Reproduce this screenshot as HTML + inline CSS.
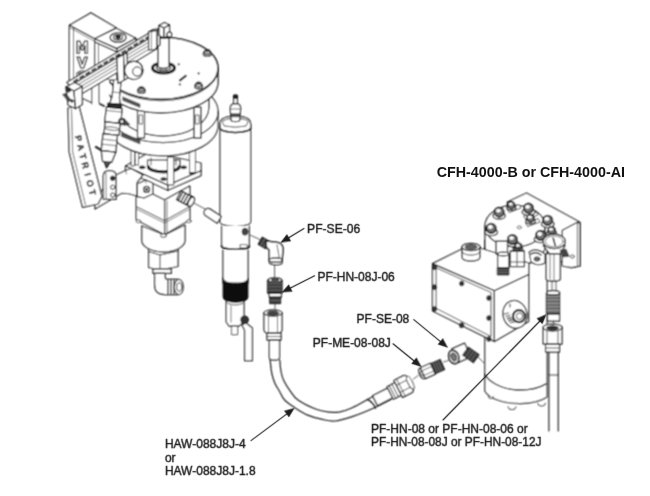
<!DOCTYPE html>
<html><head><meta charset="utf-8"><style>
html,body{margin:0;padding:0;background:#fff;}
svg{display:block;font-family:"Liberation Sans",sans-serif;will-change:transform;}
</style></head><body>
<svg width="650" height="496" viewBox="0 0 650 496" stroke-linejoin="round" stroke-linecap="round">
<defs><filter id="soft" x="0" y="0" width="650" height="496" filterUnits="userSpaceOnUse"><feConvolveMatrix order="3" kernelMatrix="1 2 1 2 4 2 1 2 1" divisor="16" edgeMode="duplicate"/></filter><filter id="soft2" x="0" y="0" width="650" height="496" filterUnits="userSpaceOnUse"><feConvolveMatrix order="3" kernelMatrix="0 1 0 1 12 1 0 1 0" divisor="16" edgeMode="duplicate"/></filter></defs>
<rect width="650" height="496" fill="#fff"/>
<g filter="url(#soft)">
<polygon points="136.3,186 164.6,200 164.6,234.8 136.3,219.7" fill="#fff" stroke="#1e1e1e" stroke-width="1.25"/>
<polygon points="164.6,200 189.8,186 189.8,219.7 164.6,234.8" fill="#fff" stroke="#1e1e1e" stroke-width="1.25"/>
<polyline points="136.3,206.6 164.6,220.7 189.8,206.6" fill="none" stroke="#1e1e1e" stroke-width="0.9"/>
<polyline points="136.3,209 164.6,223.1 189.8,209" fill="none" stroke="#1e1e1e" stroke-width="0.6"/>
<line x1="167" y1="201" x2="167" y2="234" stroke="#1e1e1e" stroke-width="0.6" />
<ellipse cx="138.4" cy="221.2" rx="2.3" ry="1.4" fill="#fff" stroke="#1e1e1e" stroke-width="0.8"/>
<ellipse cx="163" cy="235.6" rx="2.3" ry="1.4" fill="#fff" stroke="#1e1e1e" stroke-width="0.8"/>
<ellipse cx="188.8" cy="221.2" rx="2.3" ry="1.4" fill="#fff" stroke="#1e1e1e" stroke-width="0.8"/>
<polygon points="125.5,166 150,152 201,163 201,170.8 167.8,185.3" fill="#fff" stroke="#1e1e1e" stroke-width="1.25"/>
<polygon points="125.5,166 167.8,185.3 167.8,190.2 125.5,170.8" fill="#fff" stroke="#1e1e1e" stroke-width="1.25"/>
<polygon points="167.8,185.3 201,170.8 201,175.6 167.8,190.2" fill="#fff" stroke="#1e1e1e" stroke-width="1.25"/>
<path d="M147.5,160 L147.5,167 A16.3,6 0 0 0 180.1,167 L180.1,160 Z" fill="#fff" stroke="#1e1e1e" stroke-width="1.2" />
<path d="M148.5,166.5 A15.3,5.5 0 0 0 179,166.5" fill="none" stroke="#222" stroke-width="2.4" />
<path d="M151,158 L151,165 M176,158 L176,165" fill="none" stroke="#1e1e1e" stroke-width="0.7" />
<rect x="167.8" y="157" width="6" height="28" fill="#fff" stroke="#1e1e1e" stroke-width="0.9"/>
<ellipse cx="142.2" cy="167.3" rx="3" ry="1.6" fill="#333" stroke="#1e1e1e" stroke-width="0.4"/>
<ellipse cx="183.7" cy="167.3" rx="3" ry="1.6" fill="#333" stroke="#1e1e1e" stroke-width="0.4"/>
<ellipse cx="163.6" cy="179" rx="3" ry="1.6" fill="#333" stroke="#1e1e1e" stroke-width="0.4"/>
<ellipse cx="192" cy="173" rx="3" ry="1.6" fill="#333" stroke="#1e1e1e" stroke-width="0.4"/>
<rect x="131.5" y="150" width="3" height="16" fill="#fff" stroke="#1e1e1e" stroke-width="0.8"/>
<rect x="135.5" y="150" width="3" height="15" fill="#fff" stroke="#1e1e1e" stroke-width="0.8"/>
<rect x="190" y="150" width="5.4" height="22.5" fill="#fff" stroke="#1e1e1e" stroke-width="0.8"/>
<polygon points="112,177 125.5,170.5 131,168.5 143,175 137.2,182.2 137.2,196 128,193.5 121.6,193.3 95,209 95,200" fill="#fff" stroke="#1e1e1e" stroke-width="1.25"/>
<line x1="125.5" y1="170.5" x2="126.5" y2="174" stroke="#1e1e1e" stroke-width="0.6" />
<polygon points="137.2,184 146,180 152.7,183 152.7,194 144,198 137.2,196.6" fill="#fff" stroke="#1e1e1e" stroke-width="1.25"/>
<line x1="146" y1="180" x2="146" y2="183" stroke="#1e1e1e" stroke-width="0.6" />
<circle cx="146.6" cy="189.4" r="3" fill="#fff" stroke="#1e1e1e" stroke-width="1.25"/>
<circle cx="146.6" cy="189.4" r="1.3" fill="#333" stroke="#1e1e1e" stroke-width="0.3"/>
<g transform="rotate(28 185 198.5)">
<rect x="178" y="193.5" width="14" height="10" fill="#fff" stroke="#1e1e1e" stroke-width="1.25"/>
<line x1="180" y1="193.5" x2="180" y2="203.5" stroke="#222" stroke-width="1.4" />
<line x1="183" y1="193.5" x2="183" y2="203.5" stroke="#222" stroke-width="1.4" />
<line x1="186" y1="193.5" x2="186" y2="203.5" stroke="#222" stroke-width="1.4" />
<line x1="189" y1="193.5" x2="189" y2="203.5" stroke="#222" stroke-width="1.4" />
<ellipse cx="192" cy="198.5" rx="2.5" ry="5" fill="#fff" stroke="#1e1e1e" stroke-width="1.25"/>
</g>
<polygon points="148.6,246 178,246 178,266.5 160,270 148.6,267.5" fill="#fff" stroke="#1e1e1e" stroke-width="1.25"/>
<polyline points="148.6,251.5 160,255 178,251" fill="none" stroke="#1e1e1e" stroke-width="1.0"/>
<line x1="160" y1="255" x2="160" y2="270" stroke="#1e1e1e" stroke-width="0.8" />
<path d="M141.8,226 L141.8,240.3 A21.6,11.7 0 0 0 185,240.3 L185,225 L164.6,235 Z" fill="#fff" stroke="#1e1e1e" stroke-width="1.25" />
<ellipse cx="163.5" cy="235.6" rx="3" ry="1.8" fill="#fff" stroke="#1e1e1e" stroke-width="0.9"/>
<rect x="153" y="268.8" width="18.3" height="4.6" fill="#fff" stroke="#1e1e1e" stroke-width="1.25"/>
<path d="M154.6,273.4 L154.6,285 Q154.6,294.5 165,294.5 L178.8,294.5 L178.8,279.4 L167,279.4 Q165.2,279.4 165.2,277 L165.2,273.4 Z" fill="#fff" stroke="#1e1e1e" stroke-width="1.25" />
<line x1="168" y1="279.4" x2="168" y2="294.5" stroke="#1e1e1e" stroke-width="1.2" />
<line x1="171" y1="279.4" x2="171" y2="294.5" stroke="#1e1e1e" stroke-width="1.2" />
<line x1="174" y1="279.4" x2="174" y2="294.5" stroke="#1e1e1e" stroke-width="1.2" />
<ellipse cx="178.8" cy="287" rx="4.5" ry="7.5" fill="#fff" stroke="#1e1e1e" stroke-width="1.2"/>
<ellipse cx="179.2" cy="287" rx="2.5" ry="4.3" fill="#fff" stroke="#1e1e1e" stroke-width="0.9"/>
<path d="M108,111.6 L108,125 A55,31 0 0 0 218,125 L218,111.6 A55,31 0 0 0 108,111.6 Z" fill="#fff" stroke="#1e1e1e" stroke-width="1.25" />
<path d="M108,111.6 A55,31 0 0 0 218,111.6" fill="none" stroke="#1e1e1e" stroke-width="1.1" />
<path d="M117,85 L117,107 A46,29 0 0 0 209,107 L209,85 Z" fill="#fff" stroke="#1e1e1e" stroke-width="1.25" />
<rect x="137.5" y="107" width="7" height="31" fill="#fff" stroke="#1e1e1e" stroke-width="1.25"/>
<rect x="139.5" y="115" width="3" height="9" fill="#fff" stroke="#1e1e1e" stroke-width="0.7"/>
<rect x="194" y="107" width="7" height="31" fill="#fff" stroke="#1e1e1e" stroke-width="1.25"/>
<rect x="196" y="115" width="3" height="9" fill="#fff" stroke="#1e1e1e" stroke-width="0.7"/>
<path d="M104,68.2 L104,82 A57,31 0 0 0 218,82 L218,68.2 Z" fill="#fff" stroke="#1e1e1e" stroke-width="1.4" />
<path d="M104,69.8 A57,31 0 0 0 218,69.8" fill="none" stroke="#1e1e1e" stroke-width="0.8" />
<ellipse cx="161" cy="68.2" rx="57" ry="31" fill="#fff" stroke="#1e1e1e" stroke-width="1.6"/>
<polygon points="123,97 140,104 140,107.5 123,100.5" fill="#555" stroke="#1e1e1e" stroke-width="0.5"/>
<polygon points="121.5,133 140,140.5 140,144 121.5,136.5" fill="#555" stroke="#1e1e1e" stroke-width="0.5"/>
<ellipse cx="207.2" cy="53.7" rx="4" ry="2.6" fill="#fff" stroke="#1e1e1e" stroke-width="1.25"/>
<ellipse cx="207.2" cy="52" rx="2.8" ry="2.3" fill="#fff" stroke="#1e1e1e" stroke-width="1.25"/>
<ellipse cx="207.2" cy="51.3" rx="1.6" ry="1" fill="#333" stroke="#1e1e1e" stroke-width="0.3"/>
<ellipse cx="198.6" cy="86.2" rx="4" ry="2.6" fill="#fff" stroke="#1e1e1e" stroke-width="1.25"/>
<ellipse cx="198.6" cy="84.5" rx="2.8" ry="2.3" fill="#fff" stroke="#1e1e1e" stroke-width="1.25"/>
<ellipse cx="198.6" cy="83.8" rx="1.6" ry="1" fill="#333" stroke="#1e1e1e" stroke-width="0.3"/>
<ellipse cx="141.4" cy="90.8" rx="4" ry="2.6" fill="#fff" stroke="#1e1e1e" stroke-width="1.25"/>
<ellipse cx="141.4" cy="89.1" rx="2.8" ry="2.3" fill="#fff" stroke="#1e1e1e" stroke-width="1.25"/>
<ellipse cx="141.4" cy="88.4" rx="1.6" ry="1" fill="#333" stroke="#1e1e1e" stroke-width="0.3"/>
<line x1="180" y1="80.4" x2="185.7" y2="75.8" stroke="#222" stroke-width="2.2" />
<circle cx="178.7" cy="64.3" r="0.9" fill="#333" stroke="#1e1e1e" stroke-width="0.3"/>
<circle cx="198.6" cy="73.4" r="0.9" fill="#333" stroke="#1e1e1e" stroke-width="0.3"/>
<circle cx="179.8" cy="84.4" r="0.9" fill="#333" stroke="#1e1e1e" stroke-width="0.3"/>
<ellipse cx="163.5" cy="68" rx="11" ry="5" fill="#fff" stroke="#1e1e1e" stroke-width="3.0"/>
<ellipse cx="163.5" cy="67.6" rx="7" ry="2.8" fill="#fff" stroke="#1e1e1e" stroke-width="1.25"/>
<polygon points="69.4,25.2 90.9,12.9 116.2,27.7 94.6,38.8" fill="#fff" stroke="#1e1e1e" stroke-width="1.25"/>
<polygon points="69.4,25.2 94.6,38.8 94.6,104 69.4,92" fill="#fff" stroke="#1e1e1e" stroke-width="1.25"/>
<line x1="73.5" y1="28" x2="73.5" y2="92" stroke="#1e1e1e" stroke-width="0.8" />
<line x1="69.4" y1="27.5" x2="94.6" y2="41.3" stroke="#1e1e1e" stroke-width="0.6" />
<polygon points="77,53.5 77,41 79.8,41 82.2,47 84.7,41 87.5,41 87.5,53.5 85,53.5 85,45.5 83,50 81.5,50 79.5,45.5 79.5,53.5" fill="#fff" stroke="#1a1a1a" stroke-width="1.2"/>
<polygon points="77,57 79.8,57 82.2,64.2 84.7,57 87.5,57 83.8,68 80.8,68" fill="#fff" stroke="#1a1a1a" stroke-width="1.2"/>
<path d="M86.5,73.5 Q82,69.5 77.5,73.5 L77.5,77" fill="none" stroke="#1a1a1a" stroke-width="2.6" />
<path d="M86.5,73.5 Q82,69.5 77.5,73.5 L77.5,77" fill="none" stroke="#fff" stroke-width="0.9" />
<polygon points="94.6,38.8 116.2,28.3 135.8,38.2 116.8,48.6" fill="#fff" stroke="#1e1e1e" stroke-width="1.25"/>
<polygon points="94.6,38.8 116.8,48.6 116.8,52 94.6,42" fill="#fff" stroke="#1e1e1e" stroke-width="1.25"/>
<polygon points="116.8,48.6 135.8,38.2 135.8,41.6 116.8,52" fill="#fff" stroke="#1e1e1e" stroke-width="1.25"/>
<polygon points="94.6,42 116.8,52 116.8,80 94.6,80" fill="#fff" stroke="#1e1e1e" stroke-width="1.25"/>
<line x1="98.5" y1="44" x2="98.5" y2="82" stroke="#1e1e1e" stroke-width="0.8" />
<ellipse cx="118.1" cy="37.5" rx="8" ry="4.8" fill="#fff" stroke="#1e1e1e" stroke-width="1.3"/>
<ellipse cx="118.1" cy="37.2" rx="4.6" ry="2.7" fill="#fff" stroke="#1e1e1e" stroke-width="1.1"/>
<ellipse cx="118.1" cy="37" rx="2.2" ry="1.3" fill="#222" stroke="#1e1e1e" stroke-width="1.25"/>
<polygon points="91.8,80 109,80 109,112 91.8,112" fill="#fff" stroke="none" stroke-width="0"/>
<line x1="91.8" y1="80" x2="91.8" y2="104" stroke="#1e1e1e" stroke-width="0.9" />
<line x1="99" y1="80" x2="99" y2="103" stroke="#1e1e1e" stroke-width="0.9" />
<polygon points="68,108 79,106 101.9,196.4 98.2,204 82.5,207.3 69.2,152" fill="#fff" stroke="#1e1e1e" stroke-width="1.25"/>
<polyline points="71.5,109 72.7,152 85.5,205" fill="none" stroke="#1e1e1e" stroke-width="0.7"/>
<g transform="translate(78.6,138.4) rotate(75.5)">
<text x="0" y="3.3" font-size="9" font-weight="bold" fill="#2a2a2a" stroke="#2a2a2a" stroke-width="0.35" text-anchor="middle">P</text>
<text x="9.3" y="3.3" font-size="9" font-weight="bold" fill="#2a2a2a" stroke="#2a2a2a" stroke-width="0.35" text-anchor="middle">A</text>
<text x="18.6" y="3.3" font-size="9" font-weight="bold" fill="#2a2a2a" stroke="#2a2a2a" stroke-width="0.35" text-anchor="middle">T</text>
<text x="27.9" y="3.3" font-size="9" font-weight="bold" fill="#2a2a2a" stroke="#2a2a2a" stroke-width="0.35" text-anchor="middle">R</text>
<text x="37.2" y="3.3" font-size="9" font-weight="bold" fill="#2a2a2a" stroke="#2a2a2a" stroke-width="0.35" text-anchor="middle">I</text>
<text x="46.5" y="3.3" font-size="9" font-weight="bold" fill="#2a2a2a" stroke="#2a2a2a" stroke-width="0.35" text-anchor="middle">O</text>
<text x="55.8" y="3.3" font-size="9" font-weight="bold" fill="#2a2a2a" stroke="#2a2a2a" stroke-width="0.35" text-anchor="middle">T</text>
</g>
<g transform="translate(-2.5,0) rotate(6 113 130)">
<path d="M111,80 L111,97 L109.5,103.5 L120,103.5 L118.5,97 L118.5,80" fill="#fff" stroke="#1e1e1e" stroke-width="1.25" />
<line x1="111" y1="92" x2="118.5" y2="92" stroke="#1e1e1e" stroke-width="0.6" />
<rect x="107.5" y="103.5" width="14" height="4" fill="#2a2a2a" stroke="#1e1e1e" stroke-width="1.25"/>
<rect x="106.5" y="107.5" width="16" height="15" fill="#fff" stroke="#1e1e1e" stroke-width="1.25"/>
<line x1="106.5" y1="111" x2="122.5" y2="111" stroke="#1e1e1e" stroke-width="0.6" />
<rect x="107" y="122.5" width="15" height="12" fill="#fff" stroke="#1e1e1e" stroke-width="1.25"/>
<ellipse cx="114.5" cy="128.5" rx="7.5" ry="1.6" fill="#fff" stroke="#1e1e1e" stroke-width="0.7"/>
<rect x="106" y="134.5" width="14.5" height="17" fill="#fff" stroke="#1e1e1e" stroke-width="1.25"/>
<line x1="106" y1="140" x2="120.5" y2="140" stroke="#1e1e1e" stroke-width="0.6" />
<line x1="106" y1="145" x2="120.5" y2="145" stroke="#1e1e1e" stroke-width="0.6" />
<path d="M106,151.5 L108.5,162 L117.5,162 L120.5,151.5 Z" fill="#fff" stroke="#1e1e1e" stroke-width="1.25" />
<path d="M110,162 L113,168 L116,162" fill="#555" stroke="#1e1e1e" stroke-width="1.25" />
</g>
<circle cx="122" cy="121.5" r="3.6" fill="#444" stroke="#1e1e1e" stroke-width="0.6"/>
<circle cx="122" cy="121.5" r="1.6" fill="#fff" stroke="#1e1e1e" stroke-width="0.3"/>
<polygon points="124,118.5 130,124.5 124,125.5" fill="#444" stroke="#1e1e1e" stroke-width="0.4"/>
<line x1="100" y1="104" x2="104" y2="106" stroke="#333" stroke-width="2.4" />
<line x1="96" y1="147" x2="101" y2="150" stroke="#333" stroke-width="2.4" />
<path d="M103.3,199.4 L103.3,176 Q103.3,170.5 109.7,170.5 Q116.1,170.5 116.1,176 L116.1,199.4 Z" fill="#fff" stroke="#1e1e1e" stroke-width="1.25" />
<line x1="106" y1="173" x2="106" y2="199.4" stroke="#1e1e1e" stroke-width="0.6" />
<circle cx="112.7" cy="178.3" r="2.3" fill="#333" stroke="#1e1e1e" stroke-width="0.8"/>
<circle cx="112.7" cy="187.2" r="2.1" fill="#fff" stroke="#1e1e1e" stroke-width="1.0"/>
<circle cx="112.7" cy="195" r="2.1" fill="#fff" stroke="#1e1e1e" stroke-width="1.0"/>
<polygon points="67,82.3 153,30.7 155,35 70,86" fill="#fff" stroke="#1e1e1e" stroke-width="1.25"/>
<polygon points="70,86 155,35 157,48.8 72,99.8" fill="#fff" stroke="#1e1e1e" stroke-width="1.25"/>
<line x1="71" y1="88.9" x2="156" y2="37.9" stroke="#1e1e1e" stroke-width="0.7" />
<line x1="71" y1="92.4" x2="156" y2="41.4" stroke="#1e1e1e" stroke-width="0.7" />
<line x1="71" y1="95.9" x2="156" y2="44.9" stroke="#1e1e1e" stroke-width="0.7" />
<line x1="74" y1="81.4" x2="150" y2="35.8" stroke="#222" stroke-width="1.8" stroke-dasharray="4 3"/>
<polygon points="116.8,58 123.5,54.5 124.5,80 118,83.5" fill="#fff" stroke="#1e1e1e" stroke-width="1.25"/>
<polygon points="123.5,54.5 127,52.5 128,78 124.5,80" fill="#fff" stroke="#1e1e1e" stroke-width="1.25"/>
<polygon points="116.8,58 120,55.5 127,52.5 123.5,54.5" fill="#fff" stroke="#1e1e1e" stroke-width="1.25"/>
<circle cx="133.8" cy="70.3" r="9.3" fill="#fff" stroke="#1e1e1e" stroke-width="1.25"/>
<circle cx="137.2" cy="71.5" r="4.6" fill="#fff" stroke="#1e1e1e" stroke-width="1.0"/>
<path d="M126.5,64.5 Q132,59.5 139,62.5" fill="none" stroke="#1e1e1e" stroke-width="0.8" />
<path d="M125.5,73.5 Q128,79.5 134,79.6" fill="none" stroke="#1e1e1e" stroke-width="0.8" />
<path d="M140.5,64 Q143,68 142.5,73" fill="none" stroke="#1e1e1e" stroke-width="0.8" />
<path d="M158,38 L158,66 A5.55,2.3 0 0 0 169.1,66 L169.1,38 Z" fill="#fff" stroke="#1e1e1e" stroke-width="1.25" />
<polygon points="148.6,32 153,29.5 160,28.5 157.2,30.5" fill="#fff" stroke="#1e1e1e" stroke-width="1.25"/>
<polygon points="148.6,32 157.2,30.5 157.2,47 155,49.5 148.6,50" fill="#fff" stroke="#1e1e1e" stroke-width="1.25"/>
<polygon points="157.2,30.5 160,28.5 160,45 157.2,47" fill="#fff" stroke="#1e1e1e" stroke-width="1.25"/>
<line x1="151.5" y1="31.5" x2="151.5" y2="49.5" stroke="#1e1e1e" stroke-width="0.6" />
<polygon points="159,25.5 164.5,22.5 169.5,25 164,28" fill="#fff" stroke="#1e1e1e" stroke-width="1.25"/>
<polygon points="159,25.5 164,28 164,38 159,35.5" fill="#fff" stroke="#1e1e1e" stroke-width="1.25"/>
<polygon points="164,28 169.5,25 169.5,35 164,38" fill="#fff" stroke="#1e1e1e" stroke-width="1.25"/>
<circle cx="169.3" cy="34.6" r="2.4" fill="#fff" stroke="#1e1e1e" stroke-width="1.2"/>
<polygon points="66,87 74.5,82.5 82.3,86.5 74,91" fill="#fff" stroke="#1e1e1e" stroke-width="1.25"/>
<polygon points="66,87 74,91 75.5,108.8 68,105" fill="#fff" stroke="#1e1e1e" stroke-width="1.25"/>
<polygon points="74,91 82.3,86.5 82.3,104.5 75.5,108.8" fill="#fff" stroke="#1e1e1e" stroke-width="1.25"/>
<circle cx="68.4" cy="89.8" r="2.4" fill="#333" stroke="#1e1e1e" stroke-width="0.8"/>
<circle cx="72" cy="101" r="1.4" fill="#333" stroke="#1e1e1e" stroke-width="0.5"/>
<polygon points="63,94.5 66,93.5 71,100 69,101.5" fill="#444" stroke="#1e1e1e" stroke-width="0.6"/>
<path d="M220.1,124 L220.1,222 A15.25,4.5 0 0 0 250.6,222 L250.6,124 Z" fill="#fff" stroke="#1e1e1e" stroke-width="1.25" />
<path d="M220.1,124 Q220.1,116 235.3,116 Q250.6,116 250.6,124 L250.6,128 A15.25,4.5 0 0 1 220.1,128 Z" fill="#fff" stroke="#1e1e1e" stroke-width="1.25" />
<path d="M222.6,122 Q223.1,118.5 235.3,118.5 Q247.5,118.5 248,122 L246,126 Q235.3,128.5 224.6,126 Z" fill="#fff" stroke="#1e1e1e" stroke-width="0.8" />
<path d="M220.1,128 A15.25,4.5 0 0 0 250.6,128" fill="none" stroke="#1e1e1e" stroke-width="1.7" />
<path d="M231,114.5 L231,120 A4.4,1.6 0 0 0 239.8,120 L239.8,114.5 Z" fill="#fff" stroke="#1e1e1e" stroke-width="1.2" />
<rect x="231" y="114.2" width="8.8" height="2.6" fill="#555" stroke="#1e1e1e" stroke-width="0.6"/>
<path d="M233.5,103.7 Q230,105 230.3,109 L230.6,114.2 L240.2,114.2 L240.6,109 Q241,105 237.4,103.7 Z" fill="#fff" stroke="#1e1e1e" stroke-width="1.25" />
<line x1="230.5" y1="109" x2="240.5" y2="109" stroke="#1e1e1e" stroke-width="0.6" />
<rect x="233.6" y="98" width="3.8" height="5.7" fill="#fff" stroke="#1e1e1e" stroke-width="1.25"/>
<ellipse cx="235.5" cy="96.4" rx="2.1" ry="1.6" fill="#222" stroke="#1e1e1e" stroke-width="1.25"/>
<path d="M221.6,226 L221.6,246 A13.8,3.5 0 0 0 249.3,246 L249.3,226" fill="#fff" stroke="#1e1e1e" stroke-width="1.25" />
<path d="M221.6,246 A13.8,3.5 0 0 0 249.3,246" fill="none" stroke="#1a1a1a" stroke-width="2.0" />
<ellipse cx="245" cy="231.7" rx="3" ry="3.6" fill="#444" stroke="#1e1e1e" stroke-width="0.6"/>
<rect x="240.5" y="244.5" width="6.5" height="3.5" fill="#fff" stroke="#1e1e1e" stroke-width="0.7"/>
<path d="M223,250 L223,283 L248,283 L248,250" fill="#fff" stroke="#1e1e1e" stroke-width="1.25" />
<path d="M226.3,298 L226.3,322 L229,326 L239,326 L244,322 L244,298" fill="#fff" stroke="#1e1e1e" stroke-width="1.25" />
<line x1="231" y1="306" x2="231" y2="322" stroke="#1e1e1e" stroke-width="0.6" />
<path d="M227.5,303 A8,2.5 0 0 0 243,303" fill="none" stroke="#1e1e1e" stroke-width="0.8" />
<path d="M223,278 A12.5,5.7 0 0 0 248,278 L248,297.4 A12.5,5 0 0 1 223,297.4 Z" fill="#0e0e0e" stroke="#1e1e1e" stroke-width="0.8" />
<rect x="232" y="326" width="5.6" height="8.6" fill="#fff" stroke="#1e1e1e" stroke-width="0.9"/>
<circle cx="244.6" cy="319.8" r="4" fill="#333" stroke="#1e1e1e" stroke-width="0.6"/>
<polygon points="242,325 246,323 252.4,328 252.4,360.7 244.6,360.7 244.6,330" fill="#fff" stroke="#1e1e1e" stroke-width="1.25"/>
<g transform="rotate(33 213.5 216)">
<path d="M207,212 L220.5,212 L220.5,220 L207,220 A4,4 0 0 1 207,212 Z" fill="#fff" stroke="#1e1e1e" stroke-width="1.25" />
</g>
<line x1="193.8" y1="203" x2="206" y2="209.5" stroke="#1e1e1e" stroke-width="0.7" />
<line x1="250" y1="235" x2="261" y2="240" stroke="#1e1e1e" stroke-width="0.7" />
<g transform="rotate(30 264.5 243.2)">
<rect x="259.5" y="239" width="9" height="8.4" fill="#3a3a3a" stroke="#1a1a1a" stroke-width="0.9"/>
<line x1="262.5" y1="239.8" x2="262.5" y2="246.6" stroke="#888" stroke-width="0.6" />
<line x1="265.5" y1="239.8" x2="265.5" y2="246.6" stroke="#888" stroke-width="0.6" />
</g>
<path d="M266.3,241 L278,242.5 Q283,243.5 283,249.6 L282.2,260 L269.3,260 L269.3,250 Q267,248 266.3,246.6 Z" fill="#fff" stroke="#1a1a1a" stroke-width="1.5" />
<line x1="277" y1="245" x2="279.5" y2="259" stroke="#1e1e1e" stroke-width="0.7" />
<path d="M269.3,260 L269.3,262.5 A6.45,2.2 0 0 0 282.2,262.5 L282.2,260" fill="#fff" stroke="#1e1e1e" stroke-width="1.3" />
<ellipse cx="275.7" cy="260" rx="6.5" ry="2.2" fill="#fff" stroke="#1e1e1e" stroke-width="1.3"/>
<line x1="274.6" y1="264.7" x2="274.6" y2="278" stroke="#1e1e1e" stroke-width="0.7" />
<rect x="267.8" y="280" width="14.4" height="13.4" fill="#3a3a3a" stroke="#1a1a1a" stroke-width="0.9"/>
<line x1="268.6" y1="283.4" x2="281.4" y2="283.4" stroke="#888" stroke-width="0.6" />
<line x1="268.6" y1="286.7" x2="281.4" y2="286.7" stroke="#888" stroke-width="0.6" />
<line x1="268.6" y1="290.1" x2="281.4" y2="290.1" stroke="#888" stroke-width="0.6" />
<ellipse cx="275" cy="280" rx="6.6" ry="2.2" fill="#fff" stroke="#1e1e1e" stroke-width="1.25"/>
<ellipse cx="275" cy="280" rx="3.8" ry="1.2" fill="#555" stroke="#1e1e1e" stroke-width="0.6"/>
<rect x="269.3" y="293.4" width="12.1" height="3.8" fill="#fff" stroke="#1e1e1e" stroke-width="1.25"/>
<rect x="270" y="297.2" width="10.7" height="6.5" fill="#3a3a3a" stroke="#1a1a1a" stroke-width="0.9"/>
<line x1="270.8" y1="300.4" x2="279.9" y2="300.4" stroke="#888" stroke-width="0.6" />
<line x1="275" y1="303.7" x2="275" y2="310" stroke="#1e1e1e" stroke-width="0.7" />
<path d="M270.1,360 C270.4,362.3 271.1,370 271.9,373.9 C272.7,377.8 273.8,380.7 275,383.5 C276.2,386.3 277.6,388.1 279.2,390.8 C280.8,393.6 282,397.2 284.6,400 C287.2,402.8 291,405.2 294.8,407.7 C298.6,410.2 303.2,413.2 307.7,415.1 C312.1,417 316.9,418.2 321.5,419.2 C326.1,420.2 329.9,421.4 335,421 C340.1,420.6 345.6,418.8 352.2,416.6 C358.8,414.4 367.9,410.6 374.4,407.7 C380.9,404.8 388.2,400.8 391,399.4" fill="none" stroke="#1e1e1e" stroke-width="1.2" />
<path d="M279.8,360 C280,361.9 280.3,368 281,371.5 C281.7,375 282.5,377.9 284,381.1 C285.5,384.3 287.8,387.7 290.1,390.8 C292.4,393.9 293.5,396.9 298,400 C302.5,403.1 311.6,407.5 316.9,409.5 C322.2,411.5 326.1,411.8 330,412.2 C333.9,412.6 336.3,412.6 340,411.9 C343.7,411.1 347.8,409.7 352.2,407.7 C356.6,405.7 361.1,403.1 366.6,400 C372.2,396.9 382.4,391.2 385.5,389.4" fill="none" stroke="#1e1e1e" stroke-width="1.2" />
<path d="M367.2,399.4 Q373,402 375.5,408.3" fill="none" stroke="#1e1e1e" stroke-width="1.3" />
<path d="M264,313 L264,329 Q264,333 268,333 L278,333 Q282,333 282,329 L282,313 Z" fill="#fff" stroke="#1e1e1e" stroke-width="1.25" />
<line x1="268.5" y1="314" x2="268.5" y2="332" stroke="#1e1e1e" stroke-width="0.7" />
<line x1="277.5" y1="314" x2="277.5" y2="332" stroke="#1e1e1e" stroke-width="0.7" />
<ellipse cx="273" cy="313" rx="9" ry="3.2" fill="#fff" stroke="#1e1e1e" stroke-width="1.25"/>
<ellipse cx="273" cy="313.3" rx="6" ry="2.2" fill="#444" stroke="#1e1e1e" stroke-width="0.6"/>
<rect x="267" y="333" width="14" height="7" fill="#fff" stroke="#1e1e1e" stroke-width="1.25"/>
<line x1="267" y1="336.5" x2="281" y2="336.5" stroke="#1e1e1e" stroke-width="0.8" />
<path d="M269.4,340 L269.4,358 A5.05,2 0 0 0 279.5,358 L279.5,340 Z" fill="#fff" stroke="#1e1e1e" stroke-width="1.25" />
<g transform="rotate(-27 400 388)">
<rect x="372" y="382.5" width="17" height="11" fill="#fff" stroke="#1e1e1e" stroke-width="1.25"/>
<rect x="389" y="381" width="9" height="14" fill="#fff" stroke="#1e1e1e" stroke-width="1.25"/>
<line x1="391.5" y1="381" x2="391.5" y2="395" stroke="#1e1e1e" stroke-width="0.8" />
<line x1="394.5" y1="381" x2="394.5" y2="395" stroke="#1e1e1e" stroke-width="0.8" />
<path d="M398,378.5 L398,397.5 L408,397.5 Q411.5,397.5 411.5,393.5 L411.5,382.5 Q411.5,378.5 408,378.5 Z" fill="#fff" stroke="#1e1e1e" stroke-width="1.25" />
<line x1="398" y1="384" x2="411.5" y2="384" stroke="#1e1e1e" stroke-width="0.7" />
<line x1="398" y1="392" x2="411.5" y2="392" stroke="#1e1e1e" stroke-width="0.7" />
<line x1="401" y1="378.5" x2="401" y2="397.5" stroke="#1e1e1e" stroke-width="0.7" />
<ellipse cx="411.5" cy="388" rx="2.3" ry="7" fill="#fff" stroke="#1e1e1e" stroke-width="0.9"/>
</g>
<line x1="413.5" y1="379" x2="418" y2="375.6" stroke="#1e1e1e" stroke-width="0.7" />
<g transform="rotate(-24 432 368)">
<ellipse cx="420.8" cy="369" rx="2.8" ry="5.5" fill="#fff" stroke="#1e1e1e" stroke-width="1.25"/>
<ellipse cx="420.8" cy="369" rx="1.4" ry="2.8" fill="#fff" stroke="#1e1e1e" stroke-width="0.7"/>
<rect x="421.5" y="363" width="11" height="12" fill="#fff" stroke="#1e1e1e" stroke-width="1.25"/>
<line x1="421.5" y1="366.5" x2="432.5" y2="366.5" stroke="#1e1e1e" stroke-width="0.6" />
<line x1="421.5" y1="371.5" x2="432.5" y2="371.5" stroke="#1e1e1e" stroke-width="0.6" />
<rect x="432.5" y="363.5" width="10.5" height="11" fill="#3a3a3a" stroke="#1a1a1a" stroke-width="0.9"/>
<line x1="435.1" y1="364.3" x2="435.1" y2="373.7" stroke="#888" stroke-width="0.6" />
<line x1="437.8" y1="364.3" x2="437.8" y2="373.7" stroke="#888" stroke-width="0.6" />
<line x1="440.4" y1="364.3" x2="440.4" y2="373.7" stroke="#888" stroke-width="0.6" />
</g>
<line x1="443.5" y1="362" x2="448.5" y2="360.4" stroke="#1e1e1e" stroke-width="0.7" />
<g transform="rotate(-24 462 352)">
<rect x="454" y="345" width="14" height="15" fill="#fff" stroke="#1e1e1e" stroke-width="1.25"/>
</g>
<ellipse cx="453.8" cy="357" rx="5" ry="6.8" fill="#fff" stroke="#1e1e1e" stroke-width="1.6" transform="rotate(-20 453.8 357)"/>
<ellipse cx="453.8" cy="357" rx="2.8" ry="4.2" fill="#777" stroke="#1e1e1e" stroke-width="0.7" transform="rotate(-20 453.8 357)"/>
<g transform="rotate(35 471 355)">
<rect x="464.5" y="350" width="13" height="10" fill="#3a3a3a" stroke="#1a1a1a" stroke-width="0.9"/>
<line x1="467.8" y1="350.8" x2="467.8" y2="359.2" stroke="#888" stroke-width="0.6" />
<line x1="471" y1="350.8" x2="471" y2="359.2" stroke="#888" stroke-width="0.6" />
<line x1="474.2" y1="350.8" x2="474.2" y2="359.2" stroke="#888" stroke-width="0.6" />
</g>
<line x1="478" y1="357" x2="484" y2="363" stroke="#1e1e1e" stroke-width="0.7" />
<polygon points="507.3,202 526.5,193 580,222.3 580,266 571.4,267.6 562.3,262 540,255 507.3,240" fill="#fff" stroke="#1e1e1e" stroke-width="1.25"/>
<polygon points="562.3,230.3 577.4,222.2 580,223.5 580,266 571.4,267.6 562.3,266" fill="#fff" stroke="#1e1e1e" stroke-width="1.25"/>
<line x1="577.4" y1="222.2" x2="577.4" y2="266" stroke="#1e1e1e" stroke-width="0.8" />
<ellipse cx="572.4" cy="256.5" rx="2" ry="1.6" fill="#fff" stroke="#1e1e1e" stroke-width="0.8"/>
<path d="M484.8,240 L484.8,391 C489,399 505,403.5 520,403.5 C532,403.5 541,401 547,397 L547,240 Z" fill="#fff" stroke="#1e1e1e" stroke-width="1.25" />
<path d="M484.8,374 C488,381 500,389 517.4,390 C530,390.5 540,387.5 546.1,383.9" fill="none" stroke="#1e1e1e" stroke-width="1.4" />
<path d="M488.4,396.5 A2.6,1.8 0 0 0 493.6,396.5" fill="#fff" stroke="#1e1e1e" stroke-width="1.0" />
<path d="M508,406.8 A4,2.8 0 0 0 516,406.8" fill="#fff" stroke="#1e1e1e" stroke-width="1.0" />
<path d="M537.8,403.3 A3.8,2.7 0 0 0 545.4,403.3" fill="#fff" stroke="#1e1e1e" stroke-width="1.0" />
<path d="M485,226 L485,246 A30,20 0 0 0 545,246 L545,226 Z" fill="#fff" stroke="#1e1e1e" stroke-width="1.25" />
<ellipse cx="515" cy="226" rx="30" ry="21" fill="#fff" stroke="#1e1e1e" stroke-width="1.25"/>
<polygon points="507.5,209 519,204.5 521,208 509.5,212.5" fill="#fff" stroke="#1e1e1e" stroke-width="0.8"/>
<polygon points="524,216 536,211.5 538,215 526,219.5" fill="#fff" stroke="#1e1e1e" stroke-width="0.8"/>
<polygon points="526,223 538,218.5 540,222 528,226.5" fill="#fff" stroke="#1e1e1e" stroke-width="0.8"/>
<ellipse cx="499.2" cy="215.8" rx="6.2" ry="3.4" fill="#fff" stroke="#111" stroke-width="1.2"/>
<circle cx="499.2" cy="212.2" r="4.8" fill="#707070" stroke="#111" stroke-width="1.4"/>
<ellipse cx="498.4" cy="210.8" rx="2.4" ry="1.8" fill="#fff" stroke="#1e1e1e" stroke-width="0"/>
<ellipse cx="511.3" cy="207.9" rx="4.6" ry="2.5" fill="#fff" stroke="#111" stroke-width="1.2"/>
<circle cx="511.3" cy="205.2" r="3.6" fill="#707070" stroke="#111" stroke-width="1.4"/>
<ellipse cx="510.7" cy="204.1" rx="1.8" ry="1.3" fill="#fff" stroke="#1e1e1e" stroke-width="0"/>
<ellipse cx="528.5" cy="212" rx="6.4" ry="3.5" fill="#fff" stroke="#111" stroke-width="1.2"/>
<circle cx="528.5" cy="208.2" r="4.9" fill="#707070" stroke="#111" stroke-width="1.4"/>
<ellipse cx="527.6" cy="206.8" rx="2.4" ry="1.9" fill="#fff" stroke="#1e1e1e" stroke-width="0"/>
<ellipse cx="530.5" cy="221.2" rx="5" ry="2.7" fill="#fff" stroke="#111" stroke-width="1.2"/>
<circle cx="530.5" cy="218.3" r="3.8" fill="#707070" stroke="#111" stroke-width="1.4"/>
<ellipse cx="529.8" cy="217.2" rx="1.9" ry="1.4" fill="#fff" stroke="#1e1e1e" stroke-width="0"/>
<ellipse cx="547.7" cy="224.1" rx="6.4" ry="3.5" fill="#fff" stroke="#111" stroke-width="1.2"/>
<circle cx="547.7" cy="220.3" r="4.9" fill="#707070" stroke="#111" stroke-width="1.4"/>
<ellipse cx="546.8" cy="218.9" rx="2.4" ry="1.9" fill="#fff" stroke="#1e1e1e" stroke-width="0"/>
<ellipse cx="551.7" cy="233.3" rx="5" ry="2.7" fill="#fff" stroke="#111" stroke-width="1.2"/>
<circle cx="551.7" cy="230.4" r="3.8" fill="#707070" stroke="#111" stroke-width="1.4"/>
<ellipse cx="551" cy="229.3" rx="1.9" ry="1.4" fill="#fff" stroke="#1e1e1e" stroke-width="0"/>
<ellipse cx="491.2" cy="232.2" rx="6.4" ry="3.5" fill="#fff" stroke="#111" stroke-width="1.2"/>
<circle cx="491.2" cy="228.4" r="4.9" fill="#707070" stroke="#111" stroke-width="1.4"/>
<ellipse cx="490.3" cy="227" rx="2.4" ry="1.9" fill="#fff" stroke="#1e1e1e" stroke-width="0"/>
<ellipse cx="512.4" cy="243.1" rx="6.2" ry="3.4" fill="#fff" stroke="#111" stroke-width="1.2"/>
<circle cx="512.4" cy="239.5" r="4.8" fill="#707070" stroke="#111" stroke-width="1.4"/>
<ellipse cx="511.6" cy="238.1" rx="2.4" ry="1.8" fill="#fff" stroke="#1e1e1e" stroke-width="0"/>
<ellipse cx="518.4" cy="249.1" rx="4.4" ry="2.4" fill="#fff" stroke="#111" stroke-width="1.2"/>
<circle cx="518.4" cy="246.5" r="3.4" fill="#707070" stroke="#111" stroke-width="1.4"/>
<ellipse cx="517.8" cy="245.5" rx="1.7" ry="1.3" fill="#fff" stroke="#1e1e1e" stroke-width="0"/>
<ellipse cx="540.6" cy="239.2" rx="6.4" ry="3.5" fill="#fff" stroke="#111" stroke-width="1.2"/>
<circle cx="540.6" cy="235.4" r="4.9" fill="#707070" stroke="#111" stroke-width="1.4"/>
<ellipse cx="539.7" cy="234" rx="2.4" ry="1.9" fill="#fff" stroke="#1e1e1e" stroke-width="0"/>
<ellipse cx="519.4" cy="227.4" rx="2.2" ry="1.4" fill="#fff" stroke="#1e1e1e" stroke-width="0.7"/>
<polygon points="432.5,263.6 470,245 529,263 528.8,274.5 494.4,290.8" fill="#fff" stroke="#1e1e1e" stroke-width="1.25"/>
<polygon points="432.5,263.6 494.4,290.8 494.4,341.6 432.5,311" fill="#fff" stroke="#1e1e1e" stroke-width="1.25"/>
<polygon points="494.4,290.8 528.8,274.5 528.8,321.6 494.4,341.6" fill="#fff" stroke="#1e1e1e" stroke-width="1.25"/>
<polygon points="436.5,268 491,292.5 491,336.5 436.5,308.5" fill="none" stroke="#1e1e1e" stroke-width="0.8"/>
<ellipse cx="434.5" cy="267.2" rx="2.3" ry="2.6" fill="#333" stroke="#1e1e1e" stroke-width="0.5"/>
<ellipse cx="434.5" cy="287.2" rx="2.3" ry="2.6" fill="#333" stroke="#1e1e1e" stroke-width="0.5"/>
<ellipse cx="434.5" cy="309" rx="2.3" ry="2.6" fill="#333" stroke="#1e1e1e" stroke-width="0.5"/>
<ellipse cx="461.7" cy="283.5" rx="2.3" ry="2.6" fill="#333" stroke="#1e1e1e" stroke-width="0.5"/>
<ellipse cx="488.9" cy="298" rx="2.3" ry="2.6" fill="#333" stroke="#1e1e1e" stroke-width="0.5"/>
<ellipse cx="488.9" cy="318" rx="2.3" ry="2.6" fill="#333" stroke="#1e1e1e" stroke-width="0.5"/>
<ellipse cx="488.9" cy="339" rx="2.3" ry="2.6" fill="#333" stroke="#1e1e1e" stroke-width="0.5"/>
<ellipse cx="461.7" cy="325.2" rx="2.3" ry="2.6" fill="#333" stroke="#1e1e1e" stroke-width="0.5"/>
<path d="M462,247 L462,257.5 A9,3.6 0 0 0 480,257.5 L480,247 Z" fill="#fff" stroke="#1e1e1e" stroke-width="1.25" />
<path d="M462,251.5 A9,3.6 0 0 0 480,251.5" fill="none" stroke="#1e1e1e" stroke-width="0.8" />
<ellipse cx="471" cy="247" rx="9" ry="3.6" fill="#fff" stroke="#1e1e1e" stroke-width="1.25"/>
<ellipse cx="471" cy="247" rx="6" ry="2.3" fill="#666" stroke="#1e1e1e" stroke-width="0.8"/>
<ellipse cx="515" cy="314.4" rx="12" ry="14" fill="#fff" stroke="#1e1e1e" stroke-width="1.25" transform="rotate(-15 515 314.4)"/>
<circle cx="519" cy="316.2" r="6" fill="#fff" stroke="#1e1e1e" stroke-width="2.2"/>
<circle cx="519.6" cy="316.2" r="3.2" fill="#fff" stroke="#1e1e1e" stroke-width="0.8"/>
<line x1="504.5" y1="314" x2="508.5" y2="313" stroke="#1e1e1e" stroke-width="0.9" />
<line x1="506" y1="316.2" x2="510" y2="315.2" stroke="#1e1e1e" stroke-width="0.9" />
<line x1="507.5" y1="318.4" x2="511.5" y2="317.4" stroke="#1e1e1e" stroke-width="0.9" />
<line x1="509" y1="320.6" x2="513" y2="319.6" stroke="#1e1e1e" stroke-width="0.9" />
<line x1="510.5" y1="322.8" x2="514.5" y2="321.8" stroke="#1e1e1e" stroke-width="0.9" />
<line x1="510" y1="307" x2="510" y2="304" stroke="#1e1e1e" stroke-width="0.9" />
<path d="M507,318 L510,322 M509,317 L512,321" fill="none" stroke="#1e1e1e" stroke-width="0.7" />
<polygon points="496,241 507.5,241 507.5,254 496,254" fill="#fff" stroke="#1e1e1e" stroke-width="1.25"/>
<rect x="497.6" y="254" width="11.3" height="14" fill="#fff" stroke="#1e1e1e" stroke-width="1.25"/>
<ellipse cx="503.2" cy="254" rx="5.6" ry="1.8" fill="#fff" stroke="#1e1e1e" stroke-width="1.25"/>
<rect x="497.6" y="267.5" width="11.3" height="7.5" fill="#3a3a3a" stroke="#1a1a1a" stroke-width="0.9"/>
<line x1="498.4" y1="270" x2="508.1" y2="270" stroke="#888" stroke-width="0.6" />
<line x1="498.4" y1="272.5" x2="508.1" y2="272.5" stroke="#888" stroke-width="0.6" />
<polygon points="510.3,251 524.4,251 524.4,266.6 510.3,266.6" fill="#fff" stroke="#1e1e1e" stroke-width="1.3"/>
<line x1="517" y1="251" x2="517" y2="266.6" stroke="#1e1e1e" stroke-width="0.7" />
<rect x="513" y="247.5" width="7" height="4" fill="#444" stroke="#1e1e1e" stroke-width="0.6"/>
<line x1="510.3" y1="262" x2="524.4" y2="262" stroke="#1e1e1e" stroke-width="0.7" />
<path d="M546,253.5 L546,279 A7.15,2 0 0 0 560.3,279 L560.3,253.5 Z" fill="#fff" stroke="#1e1e1e" stroke-width="1.25" />
<line x1="550" y1="254" x2="550" y2="279" stroke="#1e1e1e" stroke-width="0.6" />
<line x1="554" y1="254" x2="554" y2="280" stroke="#1e1e1e" stroke-width="0.6" />
<path d="M543,245.4 L549.2,253.5 L560.3,253.5 L565.3,245.4 Z" fill="#fff" stroke="#1e1e1e" stroke-width="1.25" />
<ellipse cx="554.2" cy="241.4" rx="11.1" ry="7.3" fill="#fff" stroke="#1e1e1e" stroke-width="1.3"/>
<ellipse cx="554.2" cy="241.4" rx="8.8" ry="5.5" fill="#fff" stroke="#1e1e1e" stroke-width="0.6"/>
<line x1="553.2" y1="238.3" x2="555.2" y2="245.4" stroke="#1e1e1e" stroke-width="1.6" />
<path d="M529,252 Q536,247 545,254 L545,263 Q538,267 531,262 Z" fill="#fff" stroke="#1e1e1e" stroke-width="1.1" />
<path d="M531,254 Q536,251 541,255" fill="none" stroke="#333" stroke-width="1.6" />
<ellipse cx="537" cy="259" rx="3" ry="2.2" fill="#666" stroke="#1e1e1e" stroke-width="0.6"/>
<polygon points="560.3,250 566,249 569.3,256.5 563,257" fill="#444" stroke="#1e1e1e" stroke-width="0.5"/>
<line x1="552" y1="281" x2="552" y2="292.8" stroke="#1e1e1e" stroke-width="0.7" />
<line x1="556" y1="281" x2="556" y2="292.8" stroke="#1e1e1e" stroke-width="0.7" />
<rect x="546.6" y="292.8" width="13.1" height="21" fill="#666" stroke="#1a1a1a" stroke-width="0.9"/>
<line x1="547.4" y1="296.3" x2="558.9" y2="296.3" stroke="#ccc" stroke-width="0.6" />
<line x1="547.4" y1="299.8" x2="558.9" y2="299.8" stroke="#ccc" stroke-width="0.6" />
<line x1="547.4" y1="303.3" x2="558.9" y2="303.3" stroke="#ccc" stroke-width="0.6" />
<line x1="547.4" y1="306.8" x2="558.9" y2="306.8" stroke="#ccc" stroke-width="0.6" />
<line x1="547.4" y1="310.3" x2="558.9" y2="310.3" stroke="#ccc" stroke-width="0.6" />
<ellipse cx="553.1" cy="292.8" rx="6.5" ry="2.2" fill="#fff" stroke="#1e1e1e" stroke-width="1.25"/>
<rect x="547.5" y="314" width="12" height="7" fill="#fff" stroke="#1e1e1e" stroke-width="1.25"/>
<line x1="553.5" y1="321" x2="553.5" y2="326" stroke="#1e1e1e" stroke-width="0.7" />
<rect x="543" y="327" width="19" height="17" fill="#fff" stroke="#1e1e1e" stroke-width="1.25"/>
<ellipse cx="552.5" cy="327.5" rx="9.5" ry="3.5" fill="#fff" stroke="#1e1e1e" stroke-width="1.25"/>
<ellipse cx="552.5" cy="328" rx="6" ry="2.2" fill="#333" stroke="#1e1e1e" stroke-width="0.6"/>
<line x1="547" y1="331" x2="547" y2="343" stroke="#1e1e1e" stroke-width="0.7" />
<line x1="558" y1="331" x2="558" y2="343" stroke="#1e1e1e" stroke-width="0.7" />
<rect x="545.5" y="344" width="14" height="8" fill="#fff" stroke="#1e1e1e" stroke-width="1.25"/>
<line x1="545.5" y1="348" x2="559.5" y2="348" stroke="#1e1e1e" stroke-width="0.7" />
<path d="M548.9,352 L548.9,431 M558.2,352 L558.2,431" fill="none" stroke="#1e1e1e" stroke-width="1.1" />
<line x1="548.9" y1="375" x2="558.2" y2="375" stroke="#1e1e1e" stroke-width="0.8" />
</g>
<text x="436.7" y="176.7" font-size="14.3" font-weight="bold" fill="#111" text-anchor="start" >CFH-4000-B or CFH-4000-AI</text>
<g filter="url(#soft2)">
<text x="307.1" y="232.7" font-size="12.1" font-weight="normal" fill="#1a1a1a" text-anchor="start" stroke="#1a1a1a" stroke-width="0.4">PF-SE-06</text>
<text x="317.4" y="280.6" font-size="12.0" font-weight="normal" fill="#1a1a1a" text-anchor="start" stroke="#1a1a1a" stroke-width="0.4">PF-HN-08J-06</text>
<text x="356.6" y="322.6" font-size="12.0" font-weight="normal" fill="#1a1a1a" text-anchor="start" stroke="#1a1a1a" stroke-width="0.4">PF-SE-08</text>
<text x="312.8" y="346.7" font-size="12.0" font-weight="normal" fill="#1a1a1a" text-anchor="start" stroke="#1a1a1a" stroke-width="0.4">PF-ME-08-08J</text>
<text x="164.9" y="448.2" font-size="12" font-weight="normal" fill="#1a1a1a" text-anchor="start" stroke="#1a1a1a" stroke-width="0.4">HAW-088J8J-4</text>
<text x="164.9" y="461.8" font-size="12" font-weight="normal" fill="#1a1a1a" text-anchor="start" stroke="#1a1a1a" stroke-width="0.4">or</text>
<text x="164.9" y="475" font-size="12" font-weight="normal" fill="#1a1a1a" text-anchor="start" stroke="#1a1a1a" stroke-width="0.4">HAW-088J8J-1.8</text>
<text x="371" y="432.7" font-size="12" font-weight="normal" fill="#1a1a1a" text-anchor="start" stroke="#1a1a1a" stroke-width="0.4">PF-HN-08 or PF-HN-08-06 or</text>
<text x="371" y="445.9" font-size="11.9" font-weight="normal" fill="#1a1a1a" text-anchor="start" stroke="#1a1a1a" stroke-width="0.4">PF-HN-08-08J or PF-HN-08-12J</text>
</g>
<g filter="url(#soft2)">
<line x1="304" y1="228.5" x2="287.9" y2="238.2" stroke="#1a1a1a" stroke-width="1.1" />
<polygon points="281,242.3 286.9,234.6 290.6,240.8" fill="#1a1a1a" stroke="#1a1a1a" stroke-width="0.5"/>
<line x1="314.6" y1="275.8" x2="289.5" y2="288.4" stroke="#1a1a1a" stroke-width="1.1" />
<polygon points="282.3,292 288.7,284.7 292,291.2" fill="#1a1a1a" stroke="#1a1a1a" stroke-width="0.5"/>
<line x1="413.8" y1="319.6" x2="441.1" y2="342.2" stroke="#1a1a1a" stroke-width="1.1" />
<polygon points="447.3,347.3 438.1,344.3 442.7,338.8" fill="#1a1a1a" stroke="#1a1a1a" stroke-width="0.5"/>
<line x1="393" y1="343.8" x2="414.8" y2="361.5" stroke="#1a1a1a" stroke-width="1.1" />
<polygon points="421,366.5 411.7,363.6 416.3,358" fill="#1a1a1a" stroke="#1a1a1a" stroke-width="0.5"/>
<line x1="251" y1="440.6" x2="287.6" y2="413.4" stroke="#1a1a1a" stroke-width="1.1" />
<polygon points="294,408.6 288.9,416.9 284.6,411.1" fill="#1a1a1a" stroke="#1a1a1a" stroke-width="0.5"/>
<line x1="443" y1="420" x2="540.4" y2="320.5" stroke="#1a1a1a" stroke-width="1.1" />
<polygon points="546,314.8 542.3,323.7 537.1,318.7" fill="#1a1a1a" stroke="#1a1a1a" stroke-width="0.5"/>
</g>
</svg></body></html>
